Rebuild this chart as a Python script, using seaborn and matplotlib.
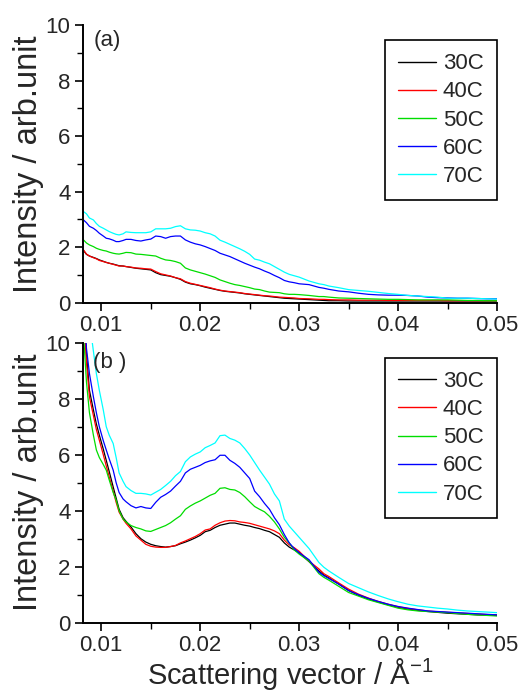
import numpy as np
import pandas as pd
import matplotlib
matplotlib.use('Agg')
import matplotlib.pyplot as plt
import seaborn as sns
from matplotlib.ticker import MultipleLocator

sns.set_theme(style='ticks')
plt.rcParams['font.family'] = ['Liberation Sans', 'DejaVu Sans']
plt.rcParams['mathtext.fontset'] = 'custom'
plt.rcParams['mathtext.rm'] = 'Liberation Sans'

temps = ['30C', '40C', '50C', '60C', '70C']
colors = {'30C': '#000000', '40C': '#ff0000', '50C': '#00dd00', '60C': '#0000ff', '70C': '#00ffff'}

# scattering vector (1/A), shared by both panels
q = [0.0082, 0.0085, 0.0088, 0.0092, 0.0095, 0.0098, 0.0102, 0.0105, 0.0108, 0.0112,
     0.0115, 0.0118, 0.0122, 0.0125, 0.0130, 0.0135, 0.0140, 0.0145, 0.0150, 0.0155,
     0.0160, 0.0165, 0.0170, 0.0175, 0.0180, 0.0185, 0.0190, 0.0195, 0.0200, 0.0205,
     0.0210, 0.0215, 0.0220, 0.0225, 0.0230, 0.0235, 0.0240, 0.0245, 0.0250, 0.0255,
     0.0260, 0.0265, 0.0270, 0.0275, 0.0280, 0.0285, 0.0290, 0.0295, 0.0300, 0.0310,
     0.0320, 0.0325, 0.0330, 0.0340, 0.0350, 0.0360, 0.0370, 0.0380, 0.0390, 0.0400,
     0.0410, 0.0420, 0.0430, 0.0440, 0.0450, 0.0460, 0.0470, 0.0480, 0.0490, 0.0500]

# ---- panel (a)
a_30 = [1.88, 1.74, 1.68, 1.63, 1.59, 1.54, 1.49, 1.45, 1.42, 1.39,
        1.36, 1.33, 1.32, 1.30, 1.27, 1.24, 1.22, 1.20, 1.18, 1.08,
        1.01, 0.98, 0.95, 0.90, 0.84, 0.74, 0.68, 0.65, 0.61, 0.56,
        0.52, 0.48, 0.44, 0.41, 0.39, 0.37, 0.35, 0.32, 0.30, 0.28,
        0.26, 0.24, 0.22, 0.20, 0.18, 0.16, 0.15, 0.14, 0.13, 0.11,
        0.09, 0.08, 0.07, 0.07, 0.06, 0.06, 0.06, 0.06, 0.06, 0.06,
        0.06, 0.06, 0.06, 0.06, 0.06, 0.06, 0.06, 0.06, 0.06, 0.06]
a_40 = [1.90, 1.75, 1.68, 1.62, 1.58, 1.52, 1.48, 1.45, 1.42, 1.38,
        1.35, 1.32, 1.32, 1.30, 1.28, 1.25, 1.24, 1.22, 1.21, 1.12,
        1.04, 1.00, 0.96, 0.90, 0.86, 0.76, 0.70, 0.66, 0.62, 0.58,
        0.54, 0.49, 0.45, 0.42, 0.40, 0.38, 0.36, 0.33, 0.31, 0.29,
        0.27, 0.25, 0.24, 0.22, 0.20, 0.19, 0.18, 0.17, 0.15, 0.14,
        0.12, 0.12, 0.11, 0.10, 0.10, 0.09, 0.09, 0.09, 0.08, 0.08,
        0.08, 0.08, 0.08, 0.08, 0.07, 0.07, 0.07, 0.07, 0.07, 0.07]
a_50 = [2.26, 2.15, 2.08, 2.02, 1.96, 1.92, 1.88, 1.86, 1.82, 1.78,
        1.76, 1.75, 1.78, 1.81, 1.80, 1.75, 1.74, 1.72, 1.70, 1.68,
        1.60, 1.54, 1.52, 1.48, 1.42, 1.25, 1.18, 1.13, 1.08, 1.03,
        0.97, 0.91, 0.82, 0.76, 0.70, 0.65, 0.62, 0.58, 0.54, 0.49,
        0.47, 0.42, 0.38, 0.37, 0.36, 0.32, 0.30, 0.30, 0.29, 0.26,
        0.22, 0.22, 0.20, 0.17, 0.16, 0.15, 0.14, 0.13, 0.12, 0.12,
        0.11, 0.10, 0.10, 0.10, 0.10, 0.09, 0.08, 0.08, 0.07, 0.07]
a_60 = [2.98, 2.88, 2.75, 2.68, 2.60, 2.50, 2.40, 2.32, 2.30, 2.25,
        2.20, 2.20, 2.24, 2.28, 2.28, 2.24, 2.22, 2.26, 2.29, 2.40,
        2.38, 2.32, 2.38, 2.40, 2.40, 2.26, 2.18, 2.12, 2.08, 2.02,
        1.95, 1.88, 1.78, 1.72, 1.66, 1.58, 1.50, 1.42, 1.35, 1.28,
        1.22, 1.14, 1.07, 0.98, 0.90, 0.80, 0.75, 0.72, 0.68, 0.65,
        0.55, 0.52, 0.48, 0.42, 0.39, 0.34, 0.30, 0.28, 0.27, 0.27,
        0.26, 0.24, 0.20, 0.18, 0.17, 0.16, 0.16, 0.15, 0.14, 0.14]
a_70 = [3.28, 3.20, 3.05, 2.98, 2.85, 2.75, 2.68, 2.62, 2.56, 2.50,
        2.46, 2.44, 2.48, 2.55, 2.53, 2.52, 2.52, 2.52, 2.55, 2.66,
        2.66, 2.66, 2.68, 2.74, 2.77, 2.66, 2.62, 2.61, 2.58, 2.52,
        2.48, 2.40, 2.25, 2.18, 2.10, 2.02, 1.94, 1.85, 1.74, 1.57,
        1.53, 1.46, 1.40, 1.30, 1.20, 1.10, 1.02, 0.97, 0.92, 0.78,
        0.68, 0.65, 0.60, 0.54, 0.47, 0.44, 0.41, 0.37, 0.33, 0.30,
        0.26, 0.24, 0.22, 0.20, 0.16, 0.16, 0.16, 0.15, 0.14, 0.13]

# ---- panel (b)
b_30 = [11.2, 9.6, 8.3, 7.6, 7.1, 6.7, 6.2, 5.8, 5.4, 4.85,
        4.45, 4.05, 3.75, 3.62, 3.42, 3.18, 3.00, 2.88, 2.80, 2.75,
        2.72, 2.70, 2.72, 2.75, 2.82, 2.88, 2.95, 3.03, 3.12, 3.25,
        3.30, 3.40, 3.48, 3.52, 3.56, 3.56, 3.52, 3.48, 3.45, 3.40,
        3.36, 3.30, 3.25, 3.15, 3.05, 2.85, 2.70, 2.60, 2.50, 2.18,
        1.85, 1.70, 1.60, 1.38, 1.15, 0.98, 0.85, 0.74, 0.64, 0.55,
        0.49, 0.44, 0.40, 0.37, 0.34, 0.32, 0.30, 0.28, 0.27, 0.26]
b_40 = [11.0, 9.3, 8.07, 7.4, 6.9, 6.52, 6.0, 5.6, 5.21, 4.7,
        4.3, 3.95, 3.7, 3.55, 3.35, 3.10, 2.95, 2.80, 2.73, 2.70,
        2.69, 2.69, 2.72, 2.76, 2.85, 2.92, 3.00, 3.08, 3.18, 3.31,
        3.35, 3.48, 3.57, 3.63, 3.65, 3.64, 3.60, 3.58, 3.55, 3.50,
        3.45, 3.40, 3.35, 3.28, 3.18, 2.95, 2.78, 2.68, 2.55, 2.20,
        1.92, 1.75, 1.65, 1.42, 1.20, 1.02, 0.88, 0.76, 0.66, 0.57,
        0.51, 0.46, 0.42, 0.39, 0.37, 0.35, 0.33, 0.31, 0.29, 0.28]
b_50 = [10.3, 8.6, 7.5, 6.7, 6.17, 5.9, 5.65, 5.45, 5.1, 4.65,
        4.38, 4.0, 3.7, 3.6, 3.47, 3.40, 3.35, 3.28, 3.26, 3.33,
        3.40, 3.47, 3.57, 3.70, 3.82, 4.05, 4.17, 4.27, 4.35, 4.45,
        4.55, 4.62, 4.80, 4.82, 4.76, 4.74, 4.65, 4.50, 4.32, 4.15,
        4.05, 3.96, 3.80, 3.60, 3.35, 3.05, 2.85, 2.60, 2.45, 2.20,
        1.75, 1.62, 1.52, 1.30, 1.08, 0.95, 0.82, 0.72, 0.62, 0.52,
        0.46, 0.42, 0.40, 0.38, 0.36, 0.33, 0.30, 0.28, 0.26, 0.24]
b_60 = [11.5, 9.8, 8.9, 8.07, 7.5, 7.0, 6.5, 6.17, 5.85, 5.45,
        5.0, 4.65, 4.42, 4.32, 4.18, 4.10, 4.15, 4.10, 4.08, 4.30,
        4.48, 4.58, 4.70, 4.88, 5.05, 5.35, 5.48, 5.55, 5.62, 5.72,
        5.78, 5.82, 5.98, 5.98, 5.80, 5.69, 5.55, 5.35, 5.15, 4.70,
        4.50, 4.26, 4.05, 3.75, 3.50, 3.15, 2.85, 2.65, 2.50, 2.25,
        1.80, 1.68, 1.58, 1.38, 1.15, 1.00, 0.87, 0.76, 0.66, 0.58,
        0.52, 0.47, 0.42, 0.40, 0.38, 0.36, 0.34, 0.32, 0.30, 0.28]
b_70 = [13.5, 12.0, 10.8, 9.7, 8.9, 8.3, 7.6, 7.0, 6.7, 6.4,
        5.9, 5.35, 5.05, 4.86, 4.72, 4.62, 4.62, 4.60, 4.56, 4.66,
        4.76, 4.90, 5.05, 5.25, 5.40, 5.75, 5.92, 6.02, 6.10, 6.25,
        6.33, 6.42, 6.68, 6.70, 6.58, 6.52, 6.42, 6.22, 5.99, 5.72,
        5.45, 5.20, 4.95, 4.60, 4.35, 3.70, 3.45, 3.25, 3.05, 2.65,
        2.15, 1.98, 1.85, 1.62, 1.40, 1.25, 1.10, 0.97, 0.85, 0.75,
        0.66, 0.60, 0.56, 0.52, 0.49, 0.45, 0.42, 0.40, 0.38, 0.36]


def longform(series):
    frames = []
    for t, vals in zip(temps, series):
        frames.append(pd.DataFrame({'q': q, 'I': vals, 'T': t}))
    return pd.concat(frames, ignore_index=True)


df_a = longform([a_30, a_40, a_50, a_60, a_70])
df_b = longform([b_30, b_40, b_50, b_60, b_70])

fig = plt.figure(figsize=(5.23, 6.95), dpi=100)
ax_a = fig.add_axes([0.1587, 0.5645, 0.7916, 0.3995])
ax_b = fig.add_axes([0.1587, 0.1040, 0.7916, 0.4029])

for ax, df, tag, tag_y in [(ax_a, df_a, '(a)', 0.945), (ax_b, df_b, '(b )', 0.93)]:
    sns.lineplot(data=df, x='q', y='I', hue='T', palette=colors, hue_order=temps,
                 estimator=None, sort=False, linewidth=0.9, ax=ax)
    ax.set_xlim(0.00815, 0.05)
    ax.set_ylim(0, 10)
    ax.xaxis.set_major_locator(MultipleLocator(0.01))
    ax.xaxis.set_minor_locator(MultipleLocator(0.005))
    ax.yaxis.set_major_locator(MultipleLocator(2))
    ax.yaxis.set_minor_locator(MultipleLocator(1))
    ax.set_xticks([0.01, 0.02, 0.03, 0.04, 0.05])
    ax.set_xticklabels(['0.01', '0.02', '0.03', '0.04', '0.05'])
    ax.tick_params(which='major', direction='out', length=6, width=1.2, labelsize=16, pad=3, color='black')
    ax.tick_params(which='minor', direction='out', length=4, width=1.0, color='black')
    for s in ['top', 'right']:
        ax.spines[s].set_visible(False)
    for s in ['left', 'bottom']:
        ax.spines[s].set_linewidth(1.4)
        ax.spines[s].set_color('black')
    ax.set_xlabel('')
    ax.set_ylabel('Intensity / arb.unit', fontsize=23.5, labelpad=1)
    ax.text(0.025, tag_y, tag, transform=ax.transAxes, fontsize=16, ha='left', va='center')
    leg = ax.legend(loc='upper right', bbox_to_anchor=(1.0, 0.946), fontsize=16, frameon=True,
                    fancybox=False, edgecolor='black', framealpha=1, borderpad=0.6,
                    handlelength=1.7, handletextpad=0.3, labelspacing=0.32, borderaxespad=0)
    leg.get_frame().set_linewidth(1.2)
    for ln in leg.get_lines():
        ln.set_linewidth(1.0)

ax_b.set_xlabel('Scattering vector / Å$^{-1}$', fontsize=21, labelpad=0)

fig.savefig('out.png', dpi=100)
